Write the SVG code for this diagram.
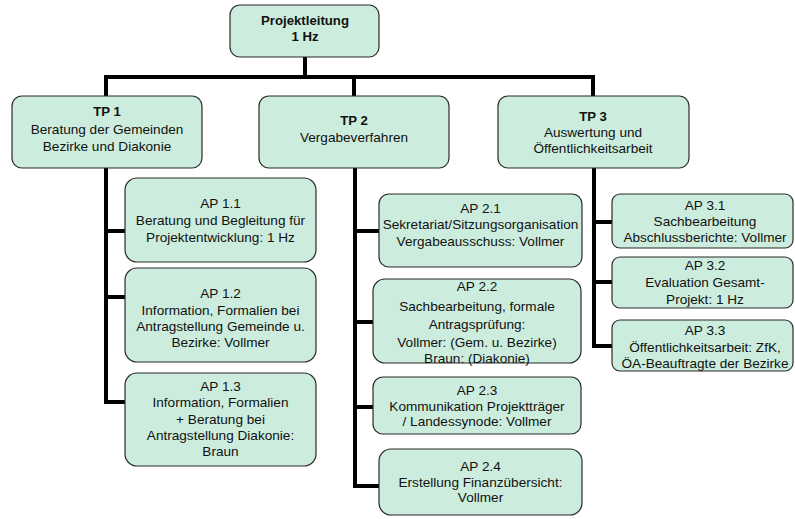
<svg xmlns="http://www.w3.org/2000/svg" width="795" height="519" viewBox="0 0 795 519">
<style>
.box{fill:#CCEDDD;stroke:#2b2b2b;stroke-width:1.2}
.c{fill:none;stroke:#000;stroke-width:4;stroke-linecap:square;stroke-linejoin:miter}
text{font-family:"Liberation Sans",Arial,sans-serif;font-size:13.6px;fill:#111;text-anchor:middle}
.b{font-weight:bold;font-size:13.2px}
</style>
<rect width="795" height="519" fill="#fff"/>
<g id="connectors">
<path class="c" d="M305 57V77M106 77H593M106 77V96M354 77V96M593 77V96"/>
<path class="c" d="M106 168V402H125M106 231H125M106 297H125"/>
<path class="c" d="M355 168V486H379M355 231H379M355 322H373M355 407H373"/>
<path class="c" d="M594 168V346H612M594 222H612M594 282H612"/>
</g>
<g id="pl"><rect class="box" x="230" y="5" width="149" height="52" rx="10"/>
<text class="b" x="305" y="25">Projektleitung</text><text class="b" x="305" y="41">1 Hz</text></g>
<g id="tp1"><rect class="box" x="12" y="96" width="190" height="72" rx="10"/>
<text class="b" x="107" y="116">TP 1</text><text x="107" y="134">Beratung der Gemeinden</text><text x="107" y="151">Bezirke und Diakonie</text></g>
<g id="tp2"><rect class="box" x="259" y="96" width="190" height="72" rx="10"/>
<text class="b" x="354" y="125">TP 2</text><text x="354" y="141.5">Vergabeverfahren</text></g>
<g id="tp3"><rect class="box" x="498" y="96" width="191" height="72" rx="10"/>
<text class="b" x="593" y="121">TP 3</text><text x="593" y="137">Auswertung und</text><text x="593" y="153">Öffentlichkeitsarbeit</text></g>
<g id="ap11"><rect class="box" x="125" y="178" width="191" height="84" rx="12"/>
<text x="220.5" y="208">AP 1.1</text><text x="220.5" y="225">Beratung und Begleitung für</text><text x="220.5" y="242">Projektentwicklung: 1 Hz</text></g>
<g id="ap12"><rect class="box" x="125" y="268" width="191" height="94" rx="12"/>
<text x="220.5" y="298">AP 1.2</text><text x="220.5" y="314.5">Information, Formalien bei</text><text x="220.5" y="330.5">Antragstellung Gemeinde u.</text><text x="220.5" y="347">Bezirke: Vollmer</text></g>
<g id="ap13"><rect class="box" x="125" y="373" width="191" height="93" rx="12"/>
<text x="220.5" y="391">AP 1.3</text><text x="220.5" y="407">Information, Formalien</text><text x="220.5" y="424">+ Beratung bei</text><text x="220.5" y="440">Antragstellung Diakonie:</text><text x="220.5" y="455.5">Braun</text></g>
<g id="ap21"><rect class="box" x="379" y="194" width="203" height="73" rx="10"/>
<text x="480.5" y="213">AP 2.1</text><text x="480.5" y="229">Sekretariat/Sitzungsorganisation</text><text x="480.5" y="245.5">Vergabeausschuss: Vollmer</text></g>
<g id="ap22"><rect class="box" x="373" y="279" width="208" height="84" rx="12"/>
<text x="477" y="291">AP 2.2</text><text x="477" y="311">Sachbearbeitung, formale</text><text x="477" y="329">Antragsprüfung:</text><text x="477" y="347">Vollmer: (Gem. u. Bezirke)</text><text x="477" y="363">Braun: (Diakonie)</text></g>
<g id="ap23"><rect class="box" x="373" y="377" width="208" height="57" rx="10"/>
<text x="477" y="394.5">AP 2.3</text><text x="477" y="410.5">Kommunikation Projektträger</text><text x="477" y="425.5">/ Landessynode: Vollmer</text></g>
<g id="ap24"><rect class="box" x="379" y="449" width="203" height="66" rx="12"/>
<text x="480.5" y="470.5">AP 2.4</text><text x="480.5" y="487">Erstellung Finanzübersicht:</text><text x="480.5" y="502">Vollmer</text></g>
<g id="ap31"><rect class="box" x="612" y="194" width="181" height="54" rx="8"/>
<text x="705" y="209.5">AP 3.1</text><text x="705" y="226">Sachbearbeitung</text><text x="705" y="241.5">Abschlussberichte: Vollmer</text></g>
<g id="ap32"><rect class="box" x="612" y="257" width="181" height="51" rx="8"/>
<text x="705" y="269.5">AP 3.2</text><text x="705" y="287">Evaluation Gesamt-</text><text x="705" y="303.5">Projekt: 1 Hz</text></g>
<g id="ap33"><rect class="box" x="612" y="320" width="181" height="51" rx="8"/>
<text x="705" y="334.5">AP 3.3</text><text x="705" y="352">Öffentlichkeitsarbeit: ZfK,</text><text x="705" y="367.5">ÖA-Beauftragte der Bezirke</text></g>
</svg>
